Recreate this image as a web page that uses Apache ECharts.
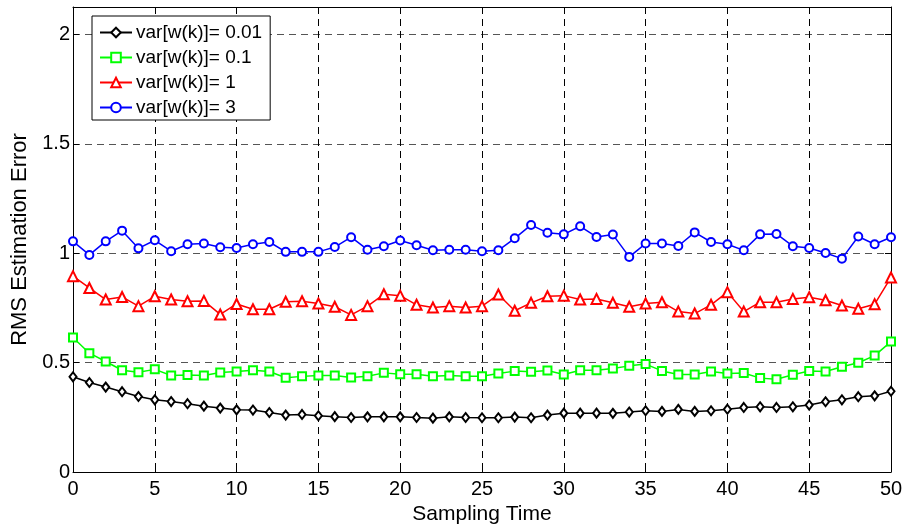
<!DOCTYPE html>
<html>
<head>
<meta charset="utf-8">
<script src="https://cdn.jsdelivr.net/npm/echarts@6/dist/echarts.min.js"></script>
<style>
  html, body { margin: 0; padding: 0; background: #fff; }
  #chart { width: 907px; height: 531px; }
</style>
</head>
<body>
<div id="chart"></div>
<script>
// RMS estimation error over sampling time for four noise variances
const samplingTime = [0,1,2,3,4,5,6,7,8,9,10,11,12,13,14,15,16,17,18,19,20,21,22,23,24,25,26,27,28,29,30,31,32,33,34,35,36,37,38,39,40,41,42,43,44,45,46,47,48,49,50];

const seriesNames = ['var[w(k)]= 0.01', 'var[w(k)]= 0.1', 'var[w(k)]= 1', 'var[w(k)]= 3'];

const rmsVar001 = [0.435,0.409,0.388,0.367,0.345,0.330,0.322,0.312,0.301,0.292,0.284,0.283,0.272,0.260,0.263,0.257,0.253,0.249,0.252,0.252,0.252,0.249,0.246,0.252,0.249,0.248,0.248,0.251,0.248,0.260,0.269,0.269,0.269,0.268,0.274,0.280,0.277,0.286,0.277,0.280,0.287,0.295,0.298,0.295,0.298,0.306,0.321,0.330,0.344,0.348,0.369];

const rmsVar01 = [0.615,0.543,0.505,0.465,0.456,0.469,0.441,0.443,0.441,0.455,0.459,0.465,0.459,0.431,0.437,0.441,0.441,0.432,0.438,0.453,0.447,0.447,0.438,0.441,0.438,0.438,0.450,0.461,0.458,0.464,0.446,0.465,0.465,0.473,0.485,0.493,0.462,0.446,0.446,0.459,0.450,0.452,0.429,0.424,0.444,0.462,0.459,0.481,0.499,0.532,0.596];

const rmsVar1 = [0.895,0.841,0.788,0.800,0.758,0.803,0.788,0.780,0.782,0.720,0.768,0.744,0.744,0.778,0.780,0.770,0.755,0.718,0.758,0.812,0.806,0.764,0.752,0.758,0.752,0.758,0.811,0.737,0.773,0.803,0.806,0.788,0.791,0.773,0.755,0.770,0.776,0.733,0.724,0.764,0.822,0.733,0.776,0.776,0.791,0.799,0.785,0.761,0.746,0.767,0.889];

const rmsVar3 = [1.054,0.992,1.054,1.103,1.022,1.059,1.009,1.041,1.044,1.027,1.024,1.041,1.051,1.006,1.006,1.006,1.028,1.073,1.016,1.032,1.058,1.036,1.013,1.016,1.016,1.009,1.013,1.068,1.129,1.093,1.086,1.123,1.074,1.085,0.983,1.044,1.044,1.033,1.095,1.051,1.041,1.013,1.086,1.088,1.032,1.024,1.001,0.975,1.076,1.041,1.073];

const xTicks = [0,5,10,15,20,25,30,35,40,45,50];
const yTicks = [0,0.5,1,1.5,2];

const FONT = 'Liberation Sans, Arial, Helvetica, sans-serif';

function pairs(values) {
  return samplingTime.map((t, i) => [t, values[i]]);
}

function lineSeries(name, values, color, symbol, size) {
  return {
    name: name,
    type: 'line',
    data: pairs(values),
    xAxisIndex: 0,
    yAxisIndex: 0,
    symbol: symbol,
    symbolSize: size,
    showAllSymbol: true,
    lineStyle: { color: color, width: 1.5 },
    itemStyle: { color: color, borderColor: color, borderWidth: 1.4 },
    emphasis: { disabled: true },
    animation: false,
    z: 3
  };
}

const chart = echarts.init(document.getElementById('chart'), null, { renderer: 'canvas' });

const axisLineStyle = { color: '#000', width: 1 };

chart.setOption({
  backgroundColor: '#fff',
  animation: false,
  textStyle: { fontFamily: FONT, color: '#000' },
  grid: { left: 73, right: 16, top: 7, bottom: 59, containLabel: false },
  legend: {
    orient: 'vertical',
    left: 92,
    top: 16,
    data: seriesNames,
    backgroundColor: '#fff',
    borderColor: '#000',
    borderWidth: 1,
    borderRadius: 0,
    padding: [7, 8, 3, 7],
    itemWidth: 32,
    itemHeight: 12,
    itemGap: 6,
    textStyle: { fontFamily: FONT, fontSize: 19, color: '#000', padding: [0, 0, 0, -1] },
    selectedMode: false
  },
  xAxis: [
    {
      type: 'value',
      min: xTicks[0],
      max: xTicks[xTicks.length - 1],
      interval: 5,
      position: 'bottom',
      name: 'Sampling Time',
      nameLocation: 'middle',
      nameGap: 26,
      nameTextStyle: { fontFamily: FONT, fontSize: 21, color: '#000' },
      axisLine: { show: true, onZero: false, lineStyle: axisLineStyle },
      axisTick: { show: true, inside: true, length: 6, lineStyle: axisLineStyle },
      axisLabel: { fontFamily: FONT, fontSize: 20, color: '#000', margin: 7 },
      splitLine: { show: true, lineStyle: { color: '#000', width: 1, type: [7, 5] } }
    },
    {
      type: 'value',
      min: xTicks[0],
      max: xTicks[xTicks.length - 1],
      interval: 5,
      position: 'top',
      axisLine: { show: true, onZero: false, lineStyle: axisLineStyle },
      axisTick: { show: true, inside: true, length: 6, lineStyle: axisLineStyle },
      axisLabel: { show: false },
      splitLine: { show: false }
    }
  ],
  yAxis: [
    {
      type: 'value',
      min: yTicks[0],
      max: 2.125,
      interval: 0.5,
      position: 'left',
      name: 'RMS Estimation Error',
      nameLocation: 'middle',
      nameGap: 40,
      nameTextStyle: { fontFamily: FONT, fontSize: 22, color: '#000' },
      axisLine: { show: true, onZero: false, lineStyle: axisLineStyle },
      axisTick: { show: true, inside: true, length: 6, lineStyle: axisLineStyle },
      axisLabel: {
        fontFamily: FONT, fontSize: 20, color: '#000', margin: 3,
        showMaxLabel: false,
        formatter: v => (yTicks.indexOf(v) >= 0 ? String(v) : '')
      },
      splitLine: { show: true, lineStyle: { color: '#555', width: 1, type: [7, 5] } }
    },
    {
      type: 'value',
      min: yTicks[0],
      max: 2.125,
      interval: 0.5,
      position: 'right',
      axisLine: { show: true, onZero: false, lineStyle: axisLineStyle },
      axisTick: { show: true, inside: true, length: 6, lineStyle: axisLineStyle },
      axisLabel: { show: false },
      splitLine: { show: false }
    }
  ],
  series: [
    lineSeries(seriesNames[0], rmsVar001, '#000000', 'emptyDiamond', [7, 9]),
    lineSeries(seriesNames[1], rmsVar01, '#00ff00', 'emptyRect', 8),
    lineSeries(seriesNames[2], rmsVar1, '#ff0000', 'emptyTriangle', 10),
    lineSeries(seriesNames[3], rmsVar3, '#0000ff', 'emptyCircle', 8)
  ]
});
</script>
</body>
</html>
